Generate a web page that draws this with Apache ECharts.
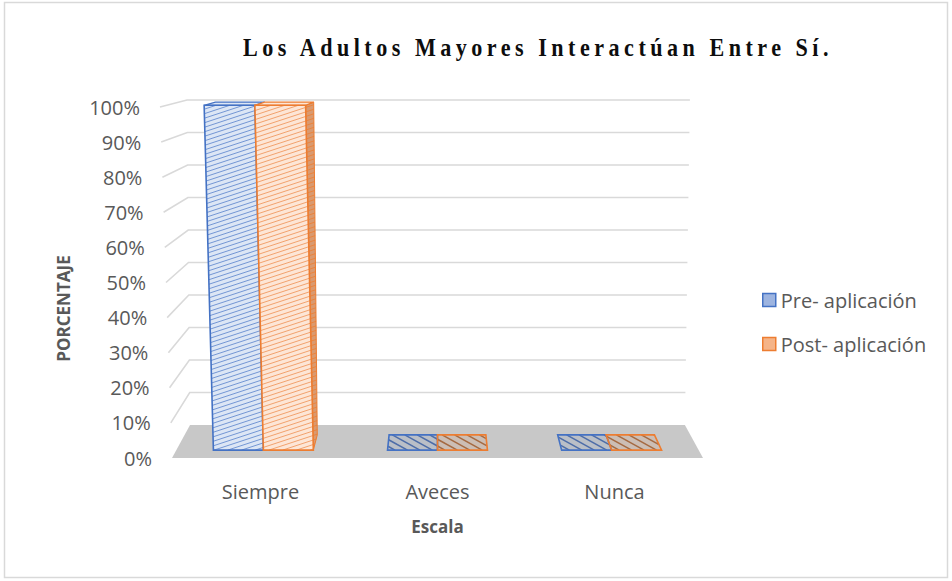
<!DOCTYPE html>
<html>
<head>
<meta charset="utf-8">
<script src="https://cdn.jsdelivr.net/npm/echarts@6/dist/echarts.min.js"></script>
<style>
  html, body { margin: 0; padding: 0; background: #fff; }
  #chart { width: 952px; height: 581px; }
  /* spaced-out serif heading */
  #chart text[style*="Liberation Serif"], #chart text[font-family*="Liberation Serif"] { letter-spacing: 5.3px; }
</style>
</head>
<body>
<div id="chart"></div>
<script>
// ---- data ----
const categories = ['Siempre', 'Aveces', 'Nunca'];
const preValues = [1, 0, 0];    // Pre- aplicación
const postValues = [1, 0, 0];   // Post- aplicación
const tickValues = [0, 0.1, 0.2, 0.3, 0.4, 0.5, 0.6, 0.7, 0.8, 0.9, 1];
const seriesNames = ['Pre- aplicación', 'Post- aplicación'];

const TXT = '#595959';
const FONT = 'Open Sans';

// palette for the two hatched series
const palettes = [
  { border: '#4472c4', fill: '#dce6f5', stripe: '#7396d4', side: '#8fa8d8',
    topFill: 'rgba(68,114,196,0.10)', topStripe: '#4d6da8' },
  { border: '#ed7d31', fill: '#fde6d6', stripe: '#f2a26e', side: '#d99a70',
    topFill: 'rgba(237,125,49,0.12)', topStripe: '#a56a42' }
];

// pseudo-3D projection: (category position, value, depth 0..1) -> pixel
function makeProjection(params, api) {
  const cs = params.coordSys;
  const W = cs.width, H = cs.height;
  const band = W / categories.length;
  const px = cs.x + 0.499 * W, py = cs.y - 0.27 * H;
  const cx = cs.x + 0.5 * W;
  const unit = H / 351;
  return function (u, v, d) {
    const p0 = api.coord([0, v]);
    const xf = p0[0] + u * band;
    const yf = p0[1];
    const kx = 1 - 0.068 * d, ky = 1 - 0.074 * d;
    const shear = v * unit * (-8 * (1 - d) + 1 * d + 8 * (xf - cx) / W);
    return [px + kx * (xf - px) + shear, py + ky * (yf - py)];
  };
}

function polyArea(poly) {
  let a = 0;
  for (let i = 0; i < poly.length; i++) {
    const p = poly[i], q = poly[(i + 1) % poly.length];
    a += p[0] * q[1] - q[0] * p[1];
  }
  return Math.abs(a) / 2;
}

// hatch lines clipped to a convex polygon
function hatch(poly, slope, gap, color, width) {
  if (polyArea(poly) < 2) return [];
  const dx = 1 / Math.sqrt(1 + slope * slope), dy = -slope * dx;
  const nx = -dy, ny = dx;
  let cmin = Infinity, cmax = -Infinity, mx = 0, my = 0;
  poly.forEach(p => {
    const c = p[0] * nx + p[1] * ny;
    cmin = Math.min(cmin, c); cmax = Math.max(cmax, c);
    mx += p[0] / poly.length; my += p[1] / poly.length;
  });
  const out = [];
  for (let c = Math.ceil(cmin / gap) * gap; c < cmax; c += gap) {
    const P = [nx * c, ny * c];
    let t0 = -Infinity, t1 = Infinity, ok = true;
    for (let i = 0; i < poly.length; i++) {
      const a = poly[i], b = poly[(i + 1) % poly.length];
      let enx = -(b[1] - a[1]), eny = b[0] - a[0];
      if (Math.abs(enx) + Math.abs(eny) < 1e-6) continue;
      if ((mx - a[0]) * enx + (my - a[1]) * eny < 0) { enx = -enx; eny = -eny; }
      const num = (P[0] - a[0]) * enx + (P[1] - a[1]) * eny;
      const den = dx * enx + dy * eny;
      if (Math.abs(den) < 1e-9) { if (num < 0) { ok = false; break; } continue; }
      const t = -num / den;
      if (den > 0) t0 = Math.max(t0, t); else t1 = Math.min(t1, t);
    }
    if (!ok || t1 - t0 < 0.5) continue;
    out.push({
      type: 'line', silent: true,
      shape: { x1: P[0] + dx * t0, y1: P[1] + dy * t0, x2: P[0] + dx * t1, y2: P[1] + dy * t1 },
      style: { stroke: color, lineWidth: width }
    });
  }
  return out;
}

// floor and wall gridlines
function renderFrame(params, api) {
  const proj = makeProjection(params, api);
  const v = api.value(1);
  const uL = -0.5, uR = categories.length - 0.5;
  if (v === 0) {
    return {
      type: 'polygon', silent: true,
      shape: { points: [proj(uL, 0, 0), proj(uR, 0, 0), proj(uR, 0, 1), proj(uL, 0, 1)] },
      style: { fill: '#c8c8c8', stroke: null }
    };
  }
  const a = proj(uL, v, 0), b = proj(uL, v, 1), c = proj(uR, v, 1);
  return {
    type: 'polyline', silent: true,
    shape: { points: [a, b, c] },
    style: { stroke: '#d9d9d9', lineWidth: 1.6, fill: null }
  };
}

// one hatched 3D bar per data item
function makeBarRenderer(si) {
  const pal = palettes[si];
  const w = 0.287;
  const d1 = 0.24, d2 = 0.70;
  return function (params, api) {
    const proj = makeProjection(params, api);
    const i = api.value(0), v = api.value(1);
    const u0 = i - w + si * w, u1 = u0 + w;
    const front = [proj(u0, 0, d1), proj(u1, 0, d1), proj(u1, v, d1), proj(u0, v, d1)];
    const top = [proj(u0, v, d1), proj(u1, v, d1), proj(u1, v, d2), proj(u0, v, d2)];
    const side = [proj(u1, 0, d1), proj(u1, 0, d2), proj(u1, v, d2), proj(u1, v, d1)];
    const children = [];
    if (v > 0) {
      children.push({ type: 'polygon', shape: { points: side }, style: { fill: pal.side, stroke: pal.border, lineWidth: 1 } });
      children.push(...hatch(side, 0.33, 4.3, pal.border, 0.8));
      children.push({ type: 'polygon', shape: { points: top }, style: { fill: pal.fill, stroke: pal.border, lineWidth: 1.2 } });
      children.push({ type: 'polygon', shape: { points: front }, style: { fill: pal.fill, stroke: null } });
      children.push(...hatch(front, 0.33, 4.3, pal.stripe, 1));
      children.push({ type: 'polygon', shape: { points: front }, style: { fill: null, stroke: pal.border, lineWidth: 1.6 } });
    } else {
      children.push({ type: 'polygon', shape: { points: top }, style: { fill: pal.topFill, stroke: null } });
      children.push(...hatch(top, -0.55, 6, pal.topStripe, 1.6));
      children.push({ type: 'polygon', shape: { points: top }, style: { fill: null, stroke: pal.border, lineWidth: 1.6 } });
    }
    return { type: 'group', children: children };
  };
}

const labelRich = {};
tickValues.forEach((t, k) => {
  labelRich['p' + k] = { padding: [0, 12 * t, 0, 0], fontFamily: FONT, fontSize: 20, color: TXT };
});

const chart = echarts.init(document.getElementById('chart'), null, { renderer: 'svg' });
chart.setOption({
  backgroundColor: '#ffffff',
  animation: false,
  graphic: [
    { type: 'rect', silent: true, shape: { x: 4.5, y: 2.5, width: 943, height: 575 },
      style: { fill: null, stroke: '#d9d9d9', lineWidth: 1.5 } },
    { type: 'text', silent: true, x: 538, y: 47, scaleX: 0.85,
      style: { text: 'Los Adultos Mayores Interactúan Entre Sí.', fontFamily: 'Liberation Serif',
               fontWeight: 'bold', fontSize: 26, fill: '#0d0d0d', align: 'center', verticalAlign: 'middle' } }
  ],
  grid: { left: 172, right: 249, top: 107, bottom: 123 },
  legend: {
    orient: 'vertical', left: 762, top: 290, padding: 0, itemWidth: 13, itemHeight: 13, itemGap: 24,
    textStyle: { fontFamily: FONT, fontSize: 20, color: TXT },
    data: seriesNames.map((n, k) => ({
      name: n, icon: 'rect',
      itemStyle: { color: k === 0 ? '#9db4e0' : '#f5b488', borderColor: palettes[k].border, borderWidth: 1.5 }
    }))
  },
  xAxis: {
    type: 'category', data: categories,
    axisLine: { show: false }, axisTick: { show: false }, splitLine: { show: false },
    axisLabel: { margin: 23, fontFamily: FONT, fontSize: 20, color: TXT },
    name: 'Escala', nameLocation: 'middle', nameGap: 60,
    nameTextStyle: { fontFamily: FONT, fontSize: 17, fontWeight: 'bold', color: TXT }
  },
  yAxis: {
    type: 'value', min: 0, max: 1, interval: 0.1,
    axisLine: { show: false }, axisTick: { show: false }, splitLine: { show: false },
    axisLabel: {
      margin: 20,
      formatter: (val, idx) => '{p' + idx + '|' + Math.round(val * 100) + '%}',
      rich: labelRich
    },
    name: 'PORCENTAJE', nameLocation: 'middle', nameGap: 100,
    nameTextStyle: { fontFamily: FONT, fontSize: 17, fontWeight: 'bold', color: TXT, padding: [0, 52, 0, 0] }
  },
  series: [
    { type: 'custom', name: 'frame', renderItem: renderFrame, silent: true,
      data: tickValues.map(t => [0, t]), z: 1 },
    { type: 'custom', name: seriesNames[0], renderItem: makeBarRenderer(0),
      itemStyle: { color: '#9db4e0' }, data: preValues.map((v, i) => [i, v]), z: 2 },
    { type: 'custom', name: seriesNames[1], renderItem: makeBarRenderer(1),
      itemStyle: { color: '#f5b488' }, data: postValues.map((v, i) => [i, v]), z: 3 }
  ]
});
</script>
</body>
</html>
